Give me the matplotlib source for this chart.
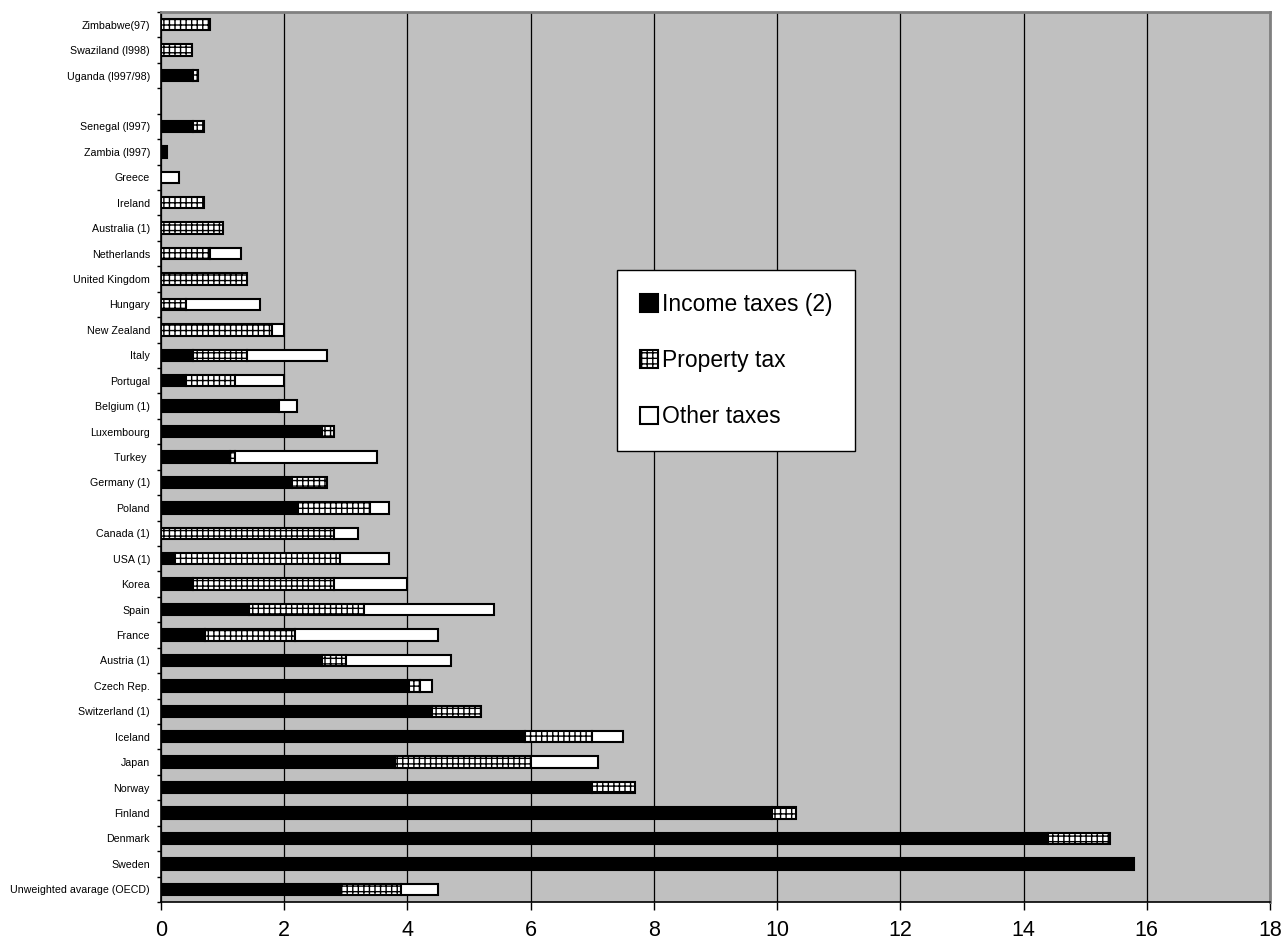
import numpy as np
import matplotlib.pyplot as plt

plt.rcParams['font.family'] = ['Liberation Sans', 'DejaVu Sans']
plt.rcParams['hatch.linewidth'] = 1.0

# bottom to top; None marks the empty slot between Senegal and Uganda
countries = ["Unweighted avarage (OECD)", "Sweden", "Denmark", "Finland", "Norway",
             "Japan", "Iceland", "Switzerland (1)", "Czech Rep.", "Austria (1)",
             "France", "Spain", "Korea", "USA (1)", "Canada (1)", "Poland",
             "Germany (1)", "Turkey ", "Luxembourg", "Belgium (1)", "Portugal",
             "Italy", "New Zealand", "Hungary", "United Kingdom", "Netherlands",
             "Australia (1)", "Ireland", "Greece", "Zambia (l997)", "Senegal (l997)",
             None, "Uganda (l997/98)", "Swaziland (l998)", "Zimbabwe(97)"]

income = [2.92, 15.8, 14.4, 9.92, 7.0, 3.8, 5.9, 4.4, 4.03, 2.62,
          0.72, 1.42, 0.52, 0.22, 0.0, 2.22, 2.13, 1.12, 2.62, 1.92,
          0.4, 0.52, 0.0, 0.0, 0.0, 0.0, 0.0, 0.0, 0.0, 0.1, 0.52,
          0.0, 0.52, 0.0, 0.0]
prop = [0.98, 0.0, 1.0, 0.38, 0.7, 2.2, 1.1, 0.8, 0.17, 0.38,
        1.46, 1.88, 2.28, 2.68, 2.8, 1.18, 0.57, 0.08, 0.18, 0.0,
        0.8, 0.88, 1.8, 0.4, 1.4, 0.8, 1.0, 0.7, 0.0, 0.0, 0.18,
        0.0, 0.08, 0.5, 0.8]
other = [0.6, 0.0, 0.0, 0.0, 0.0, 1.1, 0.5, 0.0, 0.2, 1.7,
         2.32, 2.1, 1.2, 0.8, 0.4, 0.3, 0.0, 2.3, 0.0, 0.28,
         0.8, 1.3, 0.2, 1.2, 0.0, 0.5, 0.0, 0.0, 0.3, 0.0, 0.0,
         0.0, 0.0, 0.0, 0.0]

series = [("Income taxes (2)", income, dict(facecolor="black")),
          ("Property tax", prop, dict(facecolor="white", hatch="+++")),
          ("Other taxes", other, dict(facecolor="white"))]

fig = plt.figure(figsize=(12.84, 9.42), dpi=100)
ax = fig.add_axes([0.1254, 0.0425, 0.8637, 0.9448])
ax.set_facecolor("#C0C0C0")

y = np.arange(len(countries))
left = np.zeros(len(countries))
handles = []
for name, vals, style in series:
    vals = np.array(vals)
    m = vals > 0
    ax.barh(y[m], vals[m], left=left[m], height=0.45, edgecolor="black",
            linewidth=1.5, **style)
    handles.append(plt.Rectangle((0, 0), 1, 1, edgecolor="black", linewidth=1.5,
                                 label=name, **style))
    left += vals

ax.set_xlim(0, 18)
ax.set_ylim(-0.5, len(countries) - 0.5)
ax.set_xticks(np.arange(0, 19, 2))
ax.tick_params(axis="x", labelsize=15.5, length=6, width=1, pad=7, direction="out")
ax.xaxis.grid(True, color="black", linewidth=0.9)
ax.set_axisbelow(True)

ax.set_yticks(y, [c if c else "" for c in countries])
ax.set_yticks(np.arange(-0.5, len(countries), 1), minor=True)
ax.tick_params(axis="y", which="major", length=0, labelsize=7.7, pad=8)
ax.tick_params(axis="y", which="minor", length=3, width=1)

for s in ["top", "right"]:
    ax.spines[s].set_color("#808080")
    ax.spines[s].set_linewidth(2)
ax.spines["left"].set_linewidth(1.2)
ax.spines["bottom"].set_linewidth(1.2)

leg = ax.legend(handles=handles, loc="upper left",
                bbox_to_anchor=(0.4805, 0.7134), bbox_transform=fig.transFigure,
                fontsize=16.5, frameon=True, fancybox=False, framealpha=1,
                edgecolor="black", handlelength=0.8, handleheight=0.8,
                handletextpad=0.15, labelspacing=1.45, borderpad=1.0,
                borderaxespad=0)
leg.get_frame().set_linewidth(1)

fig.savefig("out.png", dpi=100)
